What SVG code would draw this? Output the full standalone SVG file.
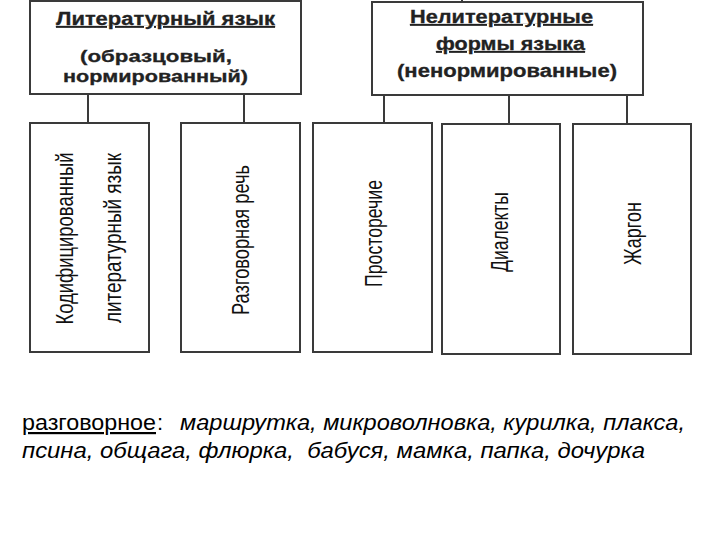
<svg xmlns="http://www.w3.org/2000/svg" width="720" height="540" viewBox="0 0 720 540">
<style>
.box{fill:#fff;stroke:#3a3a3a;stroke-width:2}
.conn line{stroke:#3a3a3a;stroke-width:2}
.hd{font-family:"Liberation Sans",Arial,sans-serif;font-weight:bold;font-size:18px;fill:#222;stroke:#222;stroke-width:0.3}
.hs{font-size:17px}
.vt{font-family:"Liberation Sans",Arial,sans-serif;font-size:23px;fill:#111;text-anchor:middle}
.bt{font-family:"Liberation Sans",Arial,sans-serif;font-size:22px;fill:#000;white-space:pre}
</style>
<rect width="720" height="540" fill="#fff"/>
<g id="connectors" class="conn">
<line x1="213" y1="0" x2="213" y2="2"/>
<line x1="462" y1="0" x2="462" y2="3"/>
<line x1="88" y1="94" x2="88" y2="123"/>
<line x1="244" y1="94" x2="244" y2="123"/>
<line x1="384" y1="95" x2="384" y2="123"/>
<line x1="509" y1="95" x2="509" y2="124"/>
<line x1="627" y1="95" x2="627" y2="124"/>
</g>
<g id="literary">
<rect class="box" x="30" y="1" width="271" height="93"/>
<text class="hd" x="56" y="25" textLength="219" lengthAdjust="spacingAndGlyphs" text-decoration="underline">Литературный язык</text>
<text class="hd hs" x="80" y="62" textLength="152" lengthAdjust="spacingAndGlyphs">(образцовый,</text>
<text class="hd hs" x="63" y="82" textLength="185" lengthAdjust="spacingAndGlyphs">нормированный)</text>
</g>
<g id="nonliterary">
<rect class="box" x="372" y="2" width="271" height="93"/>
<text class="hd" x="410" y="23" textLength="183" lengthAdjust="spacingAndGlyphs" text-decoration="underline">Нелитературные</text>
<text class="hd" x="436" y="50" textLength="149" lengthAdjust="spacingAndGlyphs" text-decoration="underline">формы языка</text>
<text class="hd" x="397" y="77" textLength="220" lengthAdjust="spacingAndGlyphs">(ненормированные)</text>
</g>
<g id="codified">
<rect class="box" x="30" y="123" width="119" height="229"/>
<text class="vt" transform="translate(73,238.5) rotate(-90)" textLength="172" lengthAdjust="spacingAndGlyphs">Кодифицированный</text>
<text class="vt" transform="translate(121,238) rotate(-90)" textLength="170" lengthAdjust="spacingAndGlyphs">литературный язык</text>
</g>
<g id="colloquial">
<rect class="box" x="181" y="123" width="119" height="229"/>
<text class="vt" transform="translate(249,240) rotate(-90)" textLength="150" lengthAdjust="spacingAndGlyphs">Разговорная речь</text>
</g>
<g id="vernacular">
<rect class="box" x="313" y="123" width="119" height="229"/>
<text class="vt" transform="translate(382,233.5) rotate(-90)" textLength="107" lengthAdjust="spacingAndGlyphs">Просторечие</text>
</g>
<g id="dialects">
<rect class="box" x="442" y="124" width="118" height="230"/>
<text class="vt" transform="translate(508,232) rotate(-90)" textLength="80" lengthAdjust="spacingAndGlyphs">Диалекты</text>
</g>
<g id="jargon">
<rect class="box" x="573" y="124" width="118" height="230"/>
<text class="vt" transform="translate(641,233.5) rotate(-90)" textLength="63" lengthAdjust="spacingAndGlyphs">Жаргон</text>
</g>
<g id="example">
<text class="bt" x="22" y="430" textLength="134" lengthAdjust="spacingAndGlyphs" text-decoration="underline">разговорное</text>
<text class="bt" x="157" y="430">:</text>
<text class="bt" x="180" y="430" font-style="italic" textLength="505" lengthAdjust="spacingAndGlyphs">маршрутка, микроволновка, курилка, плакса,</text>
<text class="bt" x="22" y="458" font-style="italic" textLength="623" lengthAdjust="spacingAndGlyphs">псина, общага, флюрка,  бабуся, мамка, папка, дочурка</text>
</g>
</svg>
